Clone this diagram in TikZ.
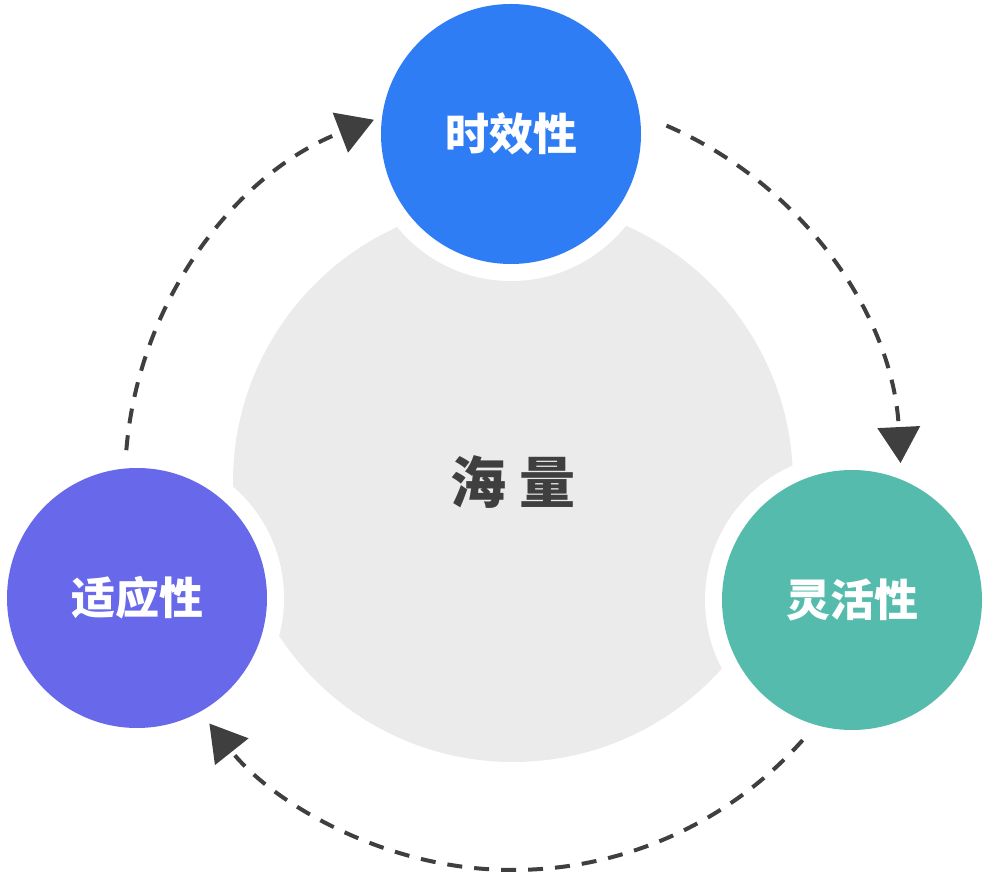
\documentclass[tikz,border=0pt]{standalone}
\usepackage{fontspec}
\newfontfamily\cjk{Noto Sans CJK SC}
\usepackage{tikz}
\usetikzlibrary{arrows.meta}
\definecolor{timeblue}{HTML}{2F7DF5}
\definecolor{flexteal}{HTML}{55BCAD}
\definecolor{adaptpurple}{HTML}{6868EB}
\definecolor{coregray}{HTML}{EBEBEB}
\definecolor{inkgray}{HTML}{3F3F3F}
\tikzstyle{bubble}=[circle,minimum size=260pt,inner sep=0pt,text=white,font=\cjk\bfseries\fontsize{44}{44}\selectfont]
\tikzstyle{core}=[circle,minimum size=560pt,inner sep=0pt,fill=coregray,text=inkgray,font=\cjk\bfseries\fontsize{56}{56}\selectfont]
\tikzstyle{flow}=[line width=4pt,draw=inkgray,dash pattern=on 15pt off 12pt,-{Triangle[width=42pt,length=36pt,fill=inkgray]}]

\begin{document}
\begin{tikzpicture}[x=1pt,y=1pt]
\useasboundingbox (0,0) rectangle (990,884);
\node[core] (core) at (513,402) {海 量};
\coordinate (ctime) at (511,750);
\coordinate (cflex) at (852,284);
\coordinate (cadapt) at (137,286);
% white rings cut into the gray disc
\foreach \c in {ctime,cflex,cadapt}
	\fill[white] (\c) circle (147);
\node[bubble,fill=timeblue] (time) at (ctime) {时效性};
\node[bubble,fill=flexteal] (flex) at (cflex) {灵活性};
\node[bubble,fill=adaptpurple] (adapt) at (cadapt) {适应性};
% dashed cycle around the core
\draw[flow] ([shift={(66.7:388)}]core.center) arc[start angle=66.7,end angle=2.8,radius=388];
\draw[flow] ([shift={(-41.7:388)}]core.center) arc[start angle=-41.7,end angle=-141.5,radius=388];
\draw[flow] ([shift={(175.3:388)}]core.center) arc[start angle=175.3,end angle=111,radius=388];
\end{tikzpicture}
\end{document}
